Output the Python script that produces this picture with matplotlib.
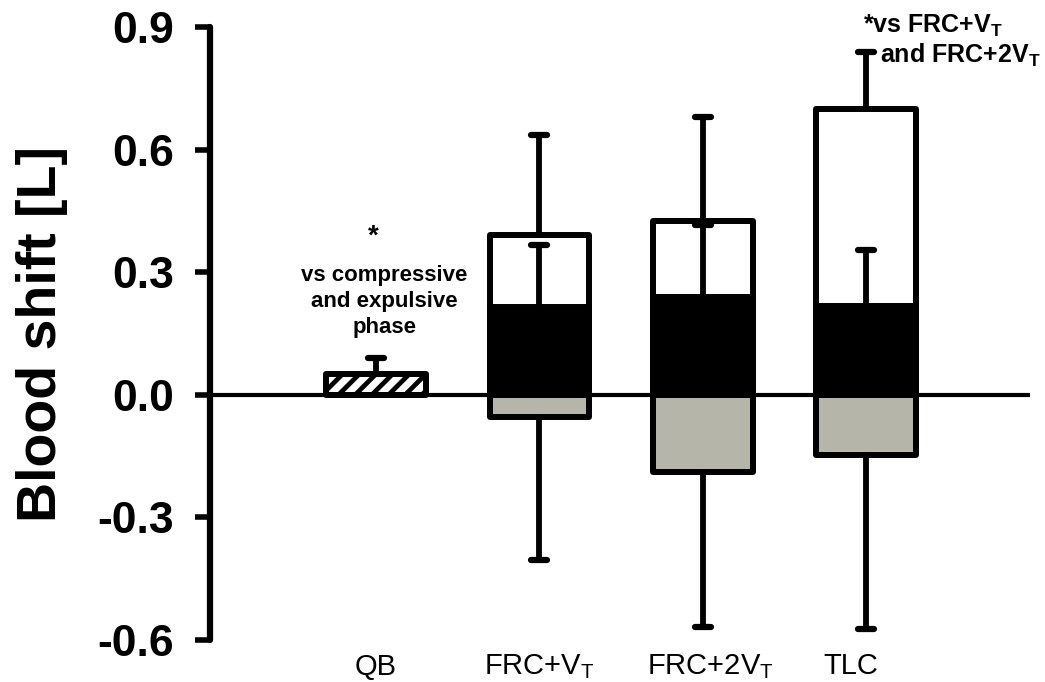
import matplotlib
matplotlib.use("Agg")
import matplotlib.pyplot as plt
from matplotlib.markers import MarkerStyle
from matplotlib.transforms import ScaledTranslation

# ---- data -----------------------------------------------------------------
categories = ["QB", r"FRC+V$_\mathregular{T}$", r"FRC+2V$_\mathregular{T}$", "TLC"]

# quiet breathing
qb_mean = [0.05]
qb_sd = [0.04]

# breath-hold manoeuvres: FRC+VT, FRC+2VT, TLC
compressive_mean = [0.39, 0.425, 0.70]
compressive_sd = [0.245, 0.255, 0.14]
expulsive_mean = [0.215, 0.24, 0.217]
expulsive_sd = [0.152, 0.175, 0.138]
recovery_mean = [-0.055, -0.19, -0.147]
recovery_sd = [0.349, 0.377, 0.426]

yticks = [-0.6, -0.3, 0.0, 0.3, 0.6, 0.9]
ytick_labels = ["-0.6", "-0.3", "0.0", "0.3", "0.6", "0.9"]

# ---- style ----------------------------------------------------------------
plt.rcParams["font.family"] = ["Liberation Sans", "DejaVu Sans"]
plt.rcParams["axes.unicode_minus"] = False
plt.rcParams["hatch.linewidth"] = 3.4
plt.rcParams["mathtext.fontset"] = "custom"
plt.rcParams["mathtext.rm"] = "Liberation Sans"

GREY = "#b5b5a9"
EDGE_LW = 4.3
BAR_W = 0.61

fig = plt.figure(figsize=(10.45, 6.82), dpi=100)
ax = fig.add_axes([210 / 1045, 1 - 640 / 682, 820 / 1045, 613 / 682])

x_qb = [0]
x_man = [1, 2, 3]

bar_kw = dict(width=BAR_W, edgecolor="black", linewidth=EDGE_LW, joinstyle="round")

# hatched quiet-breathing bar
ax.bar(x_qb, qb_mean, color="white", hatch="//", zorder=3, **bar_kw)

# manoeuvre bars: white (back), black (front), grey (below zero)
ax.bar(x_man, compressive_mean, color="white", zorder=2, **bar_kw)
ax.bar(x_man, expulsive_mean, color="black", zorder=3, **bar_kw)
ax.bar(x_man, recovery_mean, color=GREY, zorder=3, **bar_kw)

ax.axhline(0, color="black", linewidth=3, solid_capstyle="round", zorder=1.5)

cap_marker = MarkerStyle("_", capstyle="round")


def one_sided_error(xs, means, sds, sign):
    ends = [m + sign * s for m, s in zip(means, sds)]
    ax.vlines(xs, means, ends, color="black", linewidth=4.2, zorder=5,
              capstyle="round")
    ax.plot(xs, ends, linestyle="none", marker=cap_marker, markersize=12,
            markeredgewidth=4.5, color="black", zorder=5)


one_sided_error(x_qb, qb_mean, qb_sd, +1)
one_sided_error(x_man, compressive_mean, compressive_sd, +1)
one_sided_error(x_man, expulsive_mean, expulsive_sd, +1)
one_sided_error(x_man, recovery_mean, recovery_sd, -1)

# ---- axes -----------------------------------------------------------------
ax.set_xlim(-1.017, 4.004)
ax.set_ylim(-0.6, 0.9)

for side in ("top", "right", "bottom"):
    ax.spines[side].set_visible(False)
ax.spines["left"].set_linewidth(4.5)
ax.spines["left"].set_capstyle("round")

ax.set_yticks(yticks)
ax.set_yticklabels(ytick_labels, fontsize=32, fontweight="bold")
ax.tick_params(axis="y", direction="out", length=11, width=4, pad=15)

ax.set_xticks(x_qb + x_man)
ax.set_xticklabels(categories, fontsize=21)
ax.tick_params(axis="x", length=0, pad=9)

nudges_px = [0, 0, 8, -15]
for lbl, dx in zip(ax.get_xticklabels(), nudges_px):
    if dx:
        lbl.set_transform(lbl.get_transform()
                          + ScaledTranslation(dx / 100, 0, fig.dpi_scale_trans))

ax.set_ylabel("Blood shift [L]", fontsize=40, fontweight="bold")
ax.yaxis.set_label_coords(-0.173, 0.5)

# ---- significance notes ---------------------------------------------------
ax.text(-0.02, 0.387, "*", ha="center", va="center", fontsize=20,
        fontweight="bold")
for y, line in zip([0.279, 0.2155, 0.152],
                   ["vs compressive", "and expulsive", "phase"]):
    ax.text(0.05, y, line, ha="center", va="baseline", fontsize=16,
            fontweight="bold")

ax.text(2.98, 0.887, r"*vs FRC+V$_\mathregular{T}$", ha="left", va="baseline",
        fontsize=18, fontweight="bold", clip_on=False)
ax.text(3.086, 0.813, r"and FRC+2V$_\mathregular{T}$", ha="left", va="baseline",
        fontsize=18, fontweight="bold", clip_on=False)

fig.savefig("out.png", dpi=100, facecolor="white")
